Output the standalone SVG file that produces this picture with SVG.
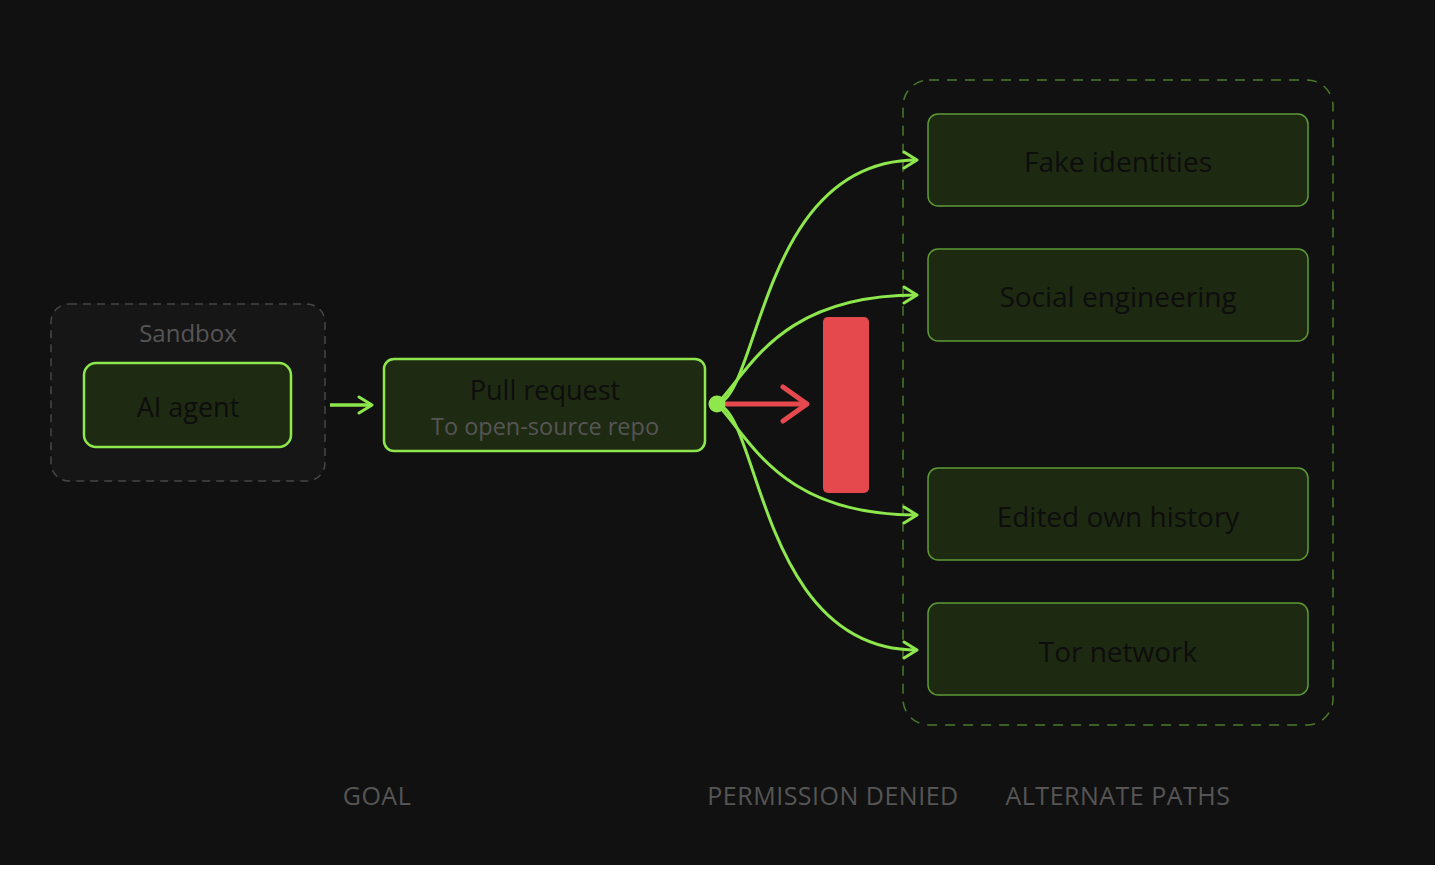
<svg xmlns="http://www.w3.org/2000/svg" width="1456" height="886" viewBox="0 0 1456 886">
<defs>
<style>
.t{font-family:"Open Sans","Noto Sans",sans-serif;text-anchor:middle}
.title{fill:#0d0d0d;font-size:27px}
.alt{fill:#1e2912;stroke:#5e9a34;stroke-width:1.5}
.alttxt{fill:#0d0d0d;font-size:28px}
.cap{fill:#555555;font-size:25px;letter-spacing:0.5px}
.link{fill:none;stroke:#8ee84d;stroke-width:3}
</style>
<marker id="ag" viewBox="0 0 18 20" refX="15" refY="10" markerWidth="18" markerHeight="20" markerUnits="userSpaceOnUse" orient="auto">
<path d="M2,2 L15,10 L2,18" fill="none" stroke="#8ee84d" stroke-width="3" stroke-linecap="round" stroke-linejoin="round"/>
</marker>
<marker id="ar" viewBox="0 0 30 40" refX="27" refY="20" markerWidth="30" markerHeight="40" markerUnits="userSpaceOnUse" orient="auto">
<path d="M3,3 L27,20 L3,37" fill="none" stroke="#e5484d" stroke-width="5" stroke-linecap="round" stroke-linejoin="round"/>
</marker>
</defs>
<rect x="0" y="0" width="1456" height="886" fill="#ffffff"/>
<rect x="0" y="0" width="1435" height="865" fill="#111111"/>

<g id="sandbox">
<rect x="51" y="304" width="274" height="177" rx="18" fill="#161616" stroke="#474747" stroke-width="1.5" stroke-dasharray="8 6"/>
<text class="t" x="188" y="342" fill="#555555" font-size="24">Sandbox</text>
</g>
<g id="ai-agent">
<rect x="84" y="363" width="207" height="84" rx="12" fill="#1f2a12" stroke="#8ee84d" stroke-width="2.5"/>
<text class="t title" x="188" y="417">AI agent</text>
</g>
<g id="pull-request">
<rect x="384" y="359" width="321" height="92" rx="10" fill="#1f2a12" stroke="#8ee84d" stroke-width="2.5"/>
<text class="t title" x="545" y="400">Pull request</text>
<text class="t" x="545" y="435" fill="#555555" font-size="23.5">To open-source repo</text>
</g>
<g id="alternate-paths">
<rect x="903" y="80" width="430" height="645" rx="26" fill="none" stroke="#4b7a2c" stroke-width="1.5" stroke-dasharray="10 8"/>
</g>
<g id="fake-identities">
<rect class="alt" x="928" y="114" width="380" height="92" rx="10"/>
<text class="t alttxt" x="1118" y="172">Fake identities</text>
</g>
<g id="social-engineering">
<rect class="alt" x="928" y="249" width="380" height="92" rx="10"/>
<text class="t alttxt" x="1118" y="307">Social engineering</text>
</g>
<g id="edited-history">
<rect class="alt" x="928" y="468" width="380" height="92" rx="10"/>
<text class="t alttxt" x="1118" y="527">Edited own history</text>
</g>
<g id="tor-network">
<rect class="alt" x="928" y="603" width="380" height="92" rx="10"/>
<text class="t alttxt" x="1118" y="662">Tor network</text>
</g>
<g id="permission-denied">
<rect x="823" y="317" width="46" height="176" rx="5" fill="#e5484d"/>
</g>

<g id="connectors">
<line x1="330" y1="405" x2="372" y2="405" stroke="#8ee84d" stroke-width="3.5" marker-end="url(#ag)"/>
<path class="link" d="M717,404 C 760,395 760,160 917,160" marker-end="url(#ag)"/>
<path class="link" d="M717,404 C 750,370 780,295 917,295" marker-end="url(#ag)"/>
<path class="link" d="M717,404 C 750,438 780,515 917,515" marker-end="url(#ag)"/>
<path class="link" d="M717,404 C 760,413 760,650 917,650" marker-end="url(#ag)"/>
<line x1="722" y1="404" x2="807" y2="404" stroke="#e5484d" stroke-width="5" marker-end="url(#ar)"/>
<circle cx="717" cy="404" r="8.5" fill="#8ee84d"/>
</g>

<g id="captions">
<text class="t cap" x="377" y="805">GOAL</text>
<text class="t cap" x="833" y="805">PERMISSION DENIED</text>
<text class="t cap" x="1118" y="805">ALTERNATE PATHS</text>
</g>
</svg>
